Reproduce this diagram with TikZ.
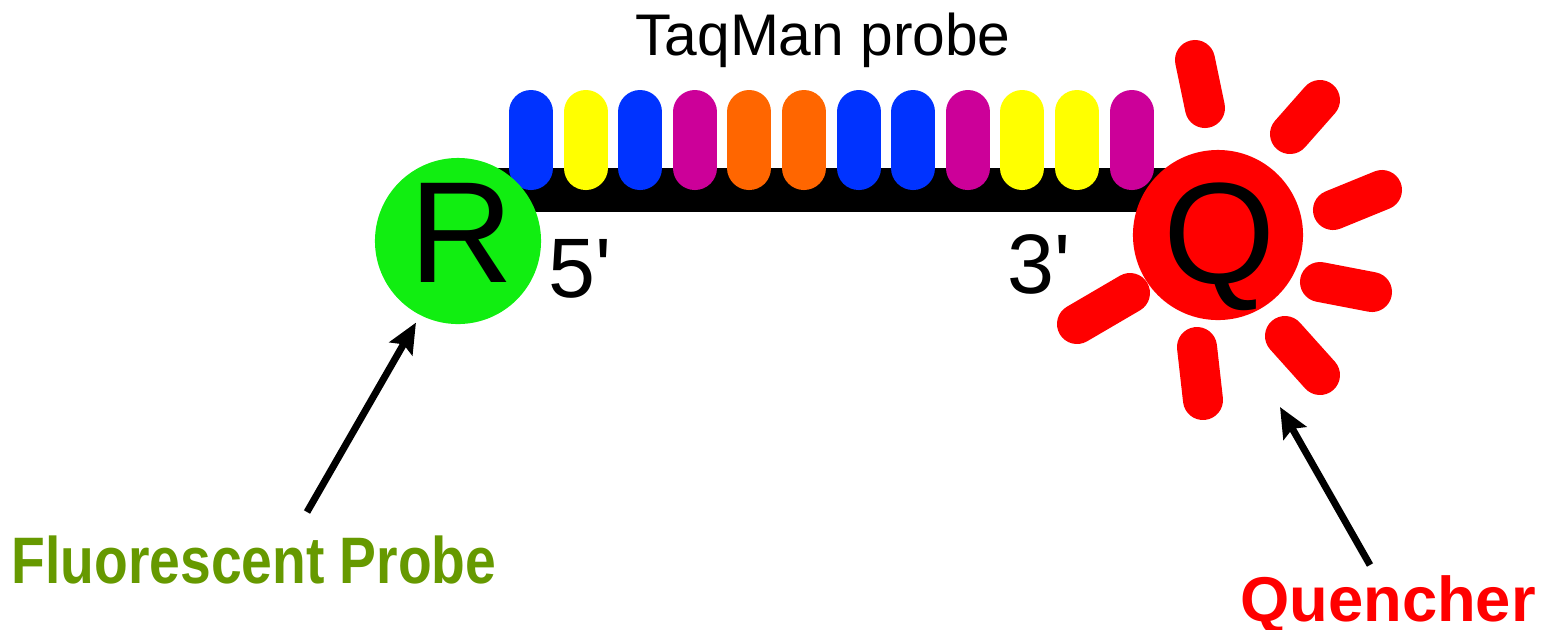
\documentclass[tikz,border=0pt]{standalone}
\usepackage{fontspec}
\setmainfont{Liberation Sans}
\usetikzlibrary{arrows.meta}
\definecolor{bblue}{RGB}{0,51,255}
\definecolor{byellow}{RGB}{255,255,0}
\definecolor{bpurple}{RGB}{204,0,153}
\definecolor{borange}{RGB}{255,102,0}
\definecolor{rgreen}{RGB}{17,238,17}
\definecolor{lgreen}{RGB}{102,153,0}
\begin{document}
\begin{tikzpicture}[x=0.01cm,y=-0.01cm,
    base/.style={line width=0.44cm,line cap=round},
    ray/.style={red,line width=0.4cm,line cap=round},
    dye/.style={circle,inner sep=0pt},
    lbl/.style={inner sep=0pt,anchor=base},
    pointer/.style={line width=0.07cm,-{Stealth[length=0.3cm,width=0.26cm,inset=0.05cm]}}]
  \useasboundingbox (0,0) rectangle (1544,629);
  \node[lbl,font=\fontsize{16.7}{18}\selectfont] (title) at (823,55) {TaqMan probe};
  % backbone with its twelve bases
  \draw[line width=0.44cm] (470,190) -- (1170,190);
  \foreach \c [count=\i from 0] in {bblue,byellow,bblue,bpurple,borange,borange,
      bblue,bblue,bpurple,byellow,byellow,bpurple}
    \draw[base,\c] (531+54.6*\i,112) -- (531+54.6*\i,168);
  % quencher glow
  \foreach \xa/\ya/\xb/\yb in {1195/60/1205/108,1320/100/1290/134,1333/210/1382/190,
      1320/282/1372/292,1285/336/1320/375,1197/347/1203/400,1130/293/1077/324}
    \draw[ray] (\xa,\ya) -- (\xb,\yb);
  \node[dye,fill=rgreen,minimum size=1.66cm] (rdye) at (458,241) {};
  \node[dye,fill=red,minimum size=1.70cm] (qdye) at (1218,235) {};
  \node[lbl,font=\fontsize{41}{41}\selectfont] (rtext) at (462,282) {R};
  \node[lbl,font=\fontsize{41}{41}\selectfont] (qtext) at (1220,283) {Q};
  \node[lbl,font=\fontsize{24}{24}\selectfont] (five) at (580,297) {5\textquotesingle};
  \node[lbl,font=\fontsize{24}{24}\selectfont] (three) at (1039,293) {3\textquotesingle};
  % labels and pointers
  \node[lbl,font=\bfseries\fontsize{18.7}{20}\selectfont,text=lgreen] (flabel) at (254,583)
    {\scalebox{.84}[1]{Fluorescent Probe}};
  \node[lbl,font=\bfseries\fontsize{18}{20}\selectfont,text=red] (qlabel) at (1388,621) {Quencher};
  \coordinate (ftail) at (307,512);
  \coordinate (qtail) at (1370,565);
  \coordinate (qtip) at (1280,407);
  \draw[pointer,shorten >=0.08cm] (ftail) -- (rdye.-117);
  \draw[pointer] (qtail) -- (qtip);
\end{tikzpicture}
\end{document}
